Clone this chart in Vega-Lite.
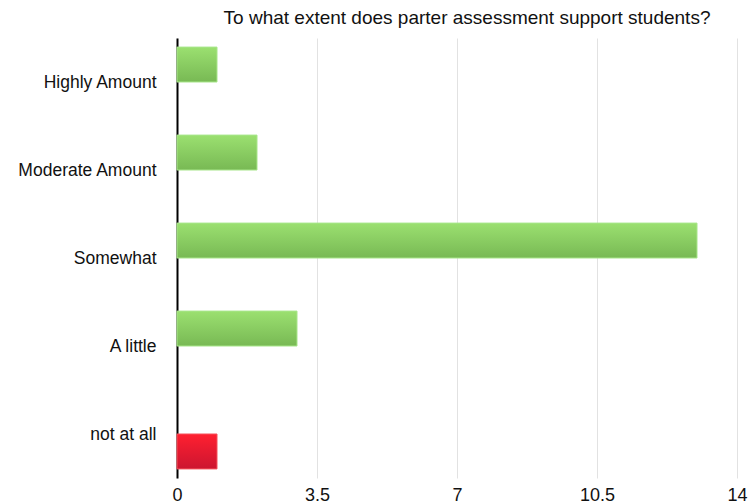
{
  "$schema": "https://vega.github.io/schema/vega-lite/v6.json",
  "autosize": "none",
  "width": 560,
  "height": 440,
  "padding": {"left": 177, "top": 38, "right": 11, "bottom": 26},
  "background": "white",
  "title": {
    "text": "To what extent does parter assessment support students?",
    "font": "Liberation Sans",
    "fontSize": 19,
    "fontWeight": "normal",
    "color": "#111111",
    "anchor": "middle",
    "dx": 10,
    "offset": 10
  },
  "config": {
    "view": {"stroke": null},
    "font": "Liberation Sans"
  },
  "data": {
    "values": [
      {"category": "Highly Amount", "series": "main", "value": 1},
      {"category": "Moderate Amount", "series": "main", "value": 2},
      {"category": "Somewhat", "series": "main", "value": 13},
      {"category": "A little", "series": "main", "value": 3},
      {"category": "not at all", "series": "none", "value": 1}
    ]
  },
  "encoding": {
    "y": {
      "field": "category",
      "type": "nominal",
      "sort": ["Highly Amount", "Moderate Amount", "Somewhat", "A little", "not at all"],
      "scale": {"paddingInner": 0, "paddingOuter": 0},
      "axis": {
        "title": null,
        "domain": true,
        "domainColor": "#000000",
        "domainWidth": 2,
        "ticks": false,
        "labelPadding": 21,
        "labelFontSize": 17.5,
        "labelColor": "#111111",
        "labelFont": "Liberation Sans",
        "labelOffset": 1
      }
    },
    "yOffset": {
      "field": "series",
      "type": "nominal",
      "scale": {"domain": ["main", "none"], "paddingInner": 0, "paddingOuter": 0.26}
    },
    "x": {
      "field": "value",
      "type": "quantitative",
      "scale": {"domain": [0, 14], "nice": false},
      "axis": {
        "title": null,
        "values": [0, 3.5, 7, 10.5, 14],
        "format": ".1~f",
        "domain": false,
        "ticks": false,
        "grid": true,
        "gridColor": "#e2e2e2",
        "gridWidth": 1,
        "labelFlush": false,
        "labelPadding": 8,
        "labelFontSize": 18,
        "labelColor": "#111111",
        "labelFont": "Liberation Sans"
      }
    }
  },
  "layer": [
    {
      "transform": [{"filter": "datum.series === 'main'"}],
      "mark": {
        "type": "bar",
        "stroke": "#a8e68a",
        "strokeWidth": 1,
        "color": {
          "x1": 0, "y1": 0, "x2": 0, "y2": 1,
          "gradient": "linear",
          "stops": [
            {"offset": 0, "color": "#9be070"},
            {"offset": 1, "color": "#78b954"}
          ]
        }
      }
    },
    {
      "transform": [{"filter": "datum.series === 'none'"}],
      "mark": {
        "type": "bar",
        "stroke": "#f5505a",
        "strokeWidth": 1,
        "color": {
          "x1": 0, "y1": 0, "x2": 0, "y2": 1,
          "gradient": "linear",
          "stops": [
            {"offset": 0, "color": "#ff2030"},
            {"offset": 1, "color": "#cc1530"}
          ]
        }
      }
    }
  ]
}
